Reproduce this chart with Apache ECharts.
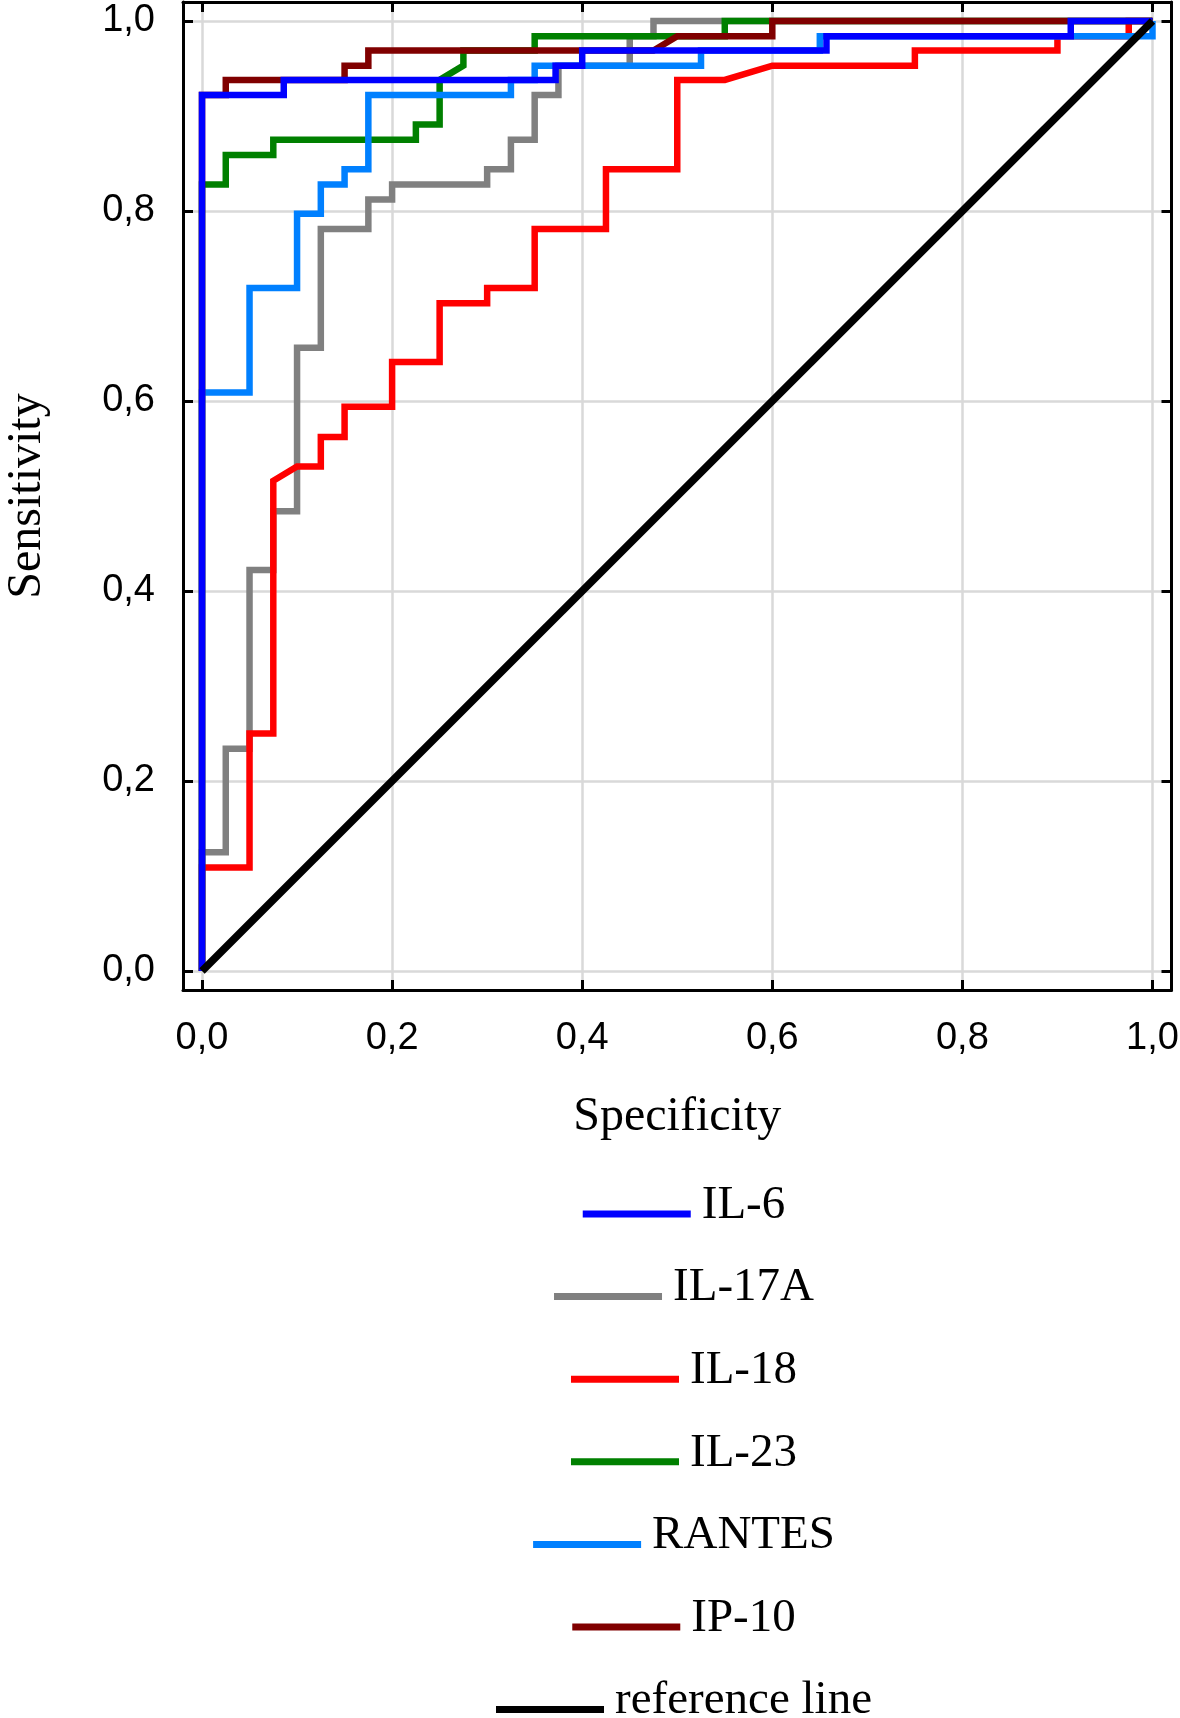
<!DOCTYPE html>
<html>
<head>
<meta charset="utf-8">
<script src="https://cdn.jsdelivr.net/npm/echarts@6/dist/echarts.min.js"></script>
<style>
html,body{margin:0;padding:0;background:#ffffff;}
#chart{width:1180px;height:1718px;}
</style>
</head>
<body>
<div id="chart"></div>
<script>
// ---- data ----
const seriesNames = ['IL-6', 'IL-17A', 'IL-18', 'IL-23', 'RANTES', 'IP-10', 'reference line'];
const seriesColors = ['#0000ff', '#808080', '#ff0000', '#008000', '#0080ff', '#800000', '#000000'];
const tickValues = [0, 0.2, 0.4, 0.6, 0.8, 1.0];

const il6Points = [[0,0],[0,0.922],[0.086,0.922],[0.086,0.938],[0.372,0.938],[0.372,0.953],[0.4,0.953],[0.4,0.969],[0.657,0.969],[0.657,0.984],[0.914,0.984],[0.914,1],[1,1]];
const il17aPoints = [[0,0],[0,0.125],[0.025,0.125],[0.025,0.234],[0.05,0.234],[0.05,0.422],[0.075,0.422],[0.075,0.484],[0.1,0.484],[0.1,0.656],[0.125,0.656],[0.125,0.781],[0.175,0.781],[0.175,0.812],[0.2,0.812],[0.2,0.828],[0.3,0.828],[0.3,0.844],[0.325,0.844],[0.325,0.875],[0.35,0.875],[0.35,0.922],[0.375,0.922],[0.375,0.953],[0.45,0.953],[0.45,0.984],[0.475,0.984],[0.475,1],[1,1]];
const il18Points = [[0,0],[0,0.109],[0.05,0.109],[0.05,0.25],[0.075,0.25],[0.075,0.516],[0.1,0.531],[0.125,0.531],[0.125,0.562],[0.15,0.562],[0.15,0.594],[0.2,0.594],[0.2,0.641],[0.25,0.641],[0.25,0.703],[0.3,0.703],[0.3,0.719],[0.35,0.719],[0.35,0.781],[0.425,0.781],[0.425,0.844],[0.5,0.844],[0.5,0.938],[0.55,0.938],[0.6,0.953],[0.75,0.953],[0.75,0.969],[0.9,0.969],[0.9,0.984],[0.975,0.984],[0.975,1],[1,1]];
const il23Points = [[0,0],[0,0.828],[0.025,0.828],[0.025,0.859],[0.075,0.859],[0.075,0.875],[0.225,0.875],[0.225,0.891],[0.25,0.891],[0.25,0.938],[0.275,0.953],[0.275,0.969],[0.35,0.969],[0.35,0.984],[0.55,0.984],[0.55,1],[1,1]];
const rantesPoints = [[0,0],[0,0.609],[0.05,0.609],[0.05,0.719],[0.1,0.719],[0.1,0.797],[0.125,0.797],[0.125,0.828],[0.15,0.828],[0.15,0.844],[0.175,0.844],[0.175,0.922],[0.325,0.922],[0.325,0.938],[0.35,0.938],[0.35,0.953],[0.525,0.953],[0.525,0.969],[0.65,0.969],[0.65,0.984],[1,0.984],[1,1]];
const ip10Points = [[0,0],[0,0.922],[0.025,0.922],[0.025,0.938],[0.15,0.938],[0.15,0.953],[0.175,0.953],[0.175,0.969],[0.475,0.969],[0.5,0.984],[0.6,0.984],[0.6,1],[1,1]];
const referencePoints = [[0,0],[1,1]];

const allPoints = [il6Points, il17aPoints, il18Points, il23Points, rantesPoints, ip10Points, referencePoints];
const drawOrder = [1, 2, 3, 4, 5, 0, 6];

// ---- chart ----
const chart = echarts.init(document.getElementById('chart'), null, {renderer: 'canvas'});

const fmt = v => Number(v).toFixed(1).replace('.', ',');
const frameLine = {show: true, onZero: false, lineStyle: {color: '#000', width: 3}};
const frameTick = {show: true, inside: true, length: 10, customValues: tickValues, lineStyle: {color: '#000', width: 3}};
const gridLine = {show: true, lineStyle: {color: '#d9d9d9', width: 2.5}};
const tickFont = {color: '#000', fontFamily: '"Liberation Sans", Arial, sans-serif', fontSize: 38};

const series = drawOrder.map(i => ({
  name: seriesNames[i],
  type: 'line',
  data: allPoints[i],
  showSymbol: false,
  symbol: 'none',
  animation: false,
  silent: true,
  itemStyle: {color: seriesColors[i]},
  lineStyle: {color: seriesColors[i], width: i === 6 ? 7.5 : 6.5, join: 'miter'},
  emphasis: {disabled: true}
}));

// legends: one per entry, each centred on x = 684.
// Icon: a 108x7 bar placed low in a 114x40 box (tiny corner speck fixes the box size).
const legendFontPx = 47;
const mctx = document.createElement('canvas').getContext('2d');
mctx.font = legendFontPx + 'px "Liberation Serif"';
const iconBoxW = 114, iconBoxH = 40, barTop = 25, barH = 7;
const legendIcon = 'path://M113.99,0h0.01v0.01h-0.01zM0,' + barTop + 'h108v' + barH + 'h-108zM113.99,39.99h0.01v0.01h-0.01z';
const legends = seriesNames.map((name, k) => {
  const tw = mctx.measureText(name).width;
  const total = iconBoxW + 5 + tw;
  const lineCenter = 1214 + k * 82.6;
  const barCenter = barTop + barH / 2;
  const textTop = iconBoxH / 2 - legendFontPx / 2;
  return {
    data: [name],
    orient: 'vertical',
    icon: legendIcon,
    itemWidth: iconBoxW,
    itemHeight: iconBoxH,
    padding: 0,
    selectedMode: false,
    left: 684 - total / 2,
    top: lineCenter - barCenter + Math.min(0, textTop),
    itemStyle: {borderWidth: 0},
    textStyle: {
      color: '#000',
      fontFamily: '"Liberation Serif", "Times New Roman", serif',
      fontSize: legendFontPx,
      lineHeight: legendFontPx
    }
  };
});

const option = {
  backgroundColor: '#ffffff',
  animation: false,
  grid: {left: 183, right: 8.5, top: 2, bottom: 728, outerBoundsMode: 'none', containLabel: false},
  xAxis: [
    {
      type: 'value', position: 'bottom', min: -0.02, max: 1.02,
      name: 'Specificity', nameLocation: 'middle', nameGap: 103,
      nameTextStyle: {color: '#000', fontFamily: '"Liberation Serif", "Times New Roman", serif', fontSize: 48},
      axisLine: frameLine, axisTick: frameTick,
      axisLabel: Object.assign({show: true, margin: 30, customValues: tickValues, formatter: fmt}, tickFont),
      splitLine: gridLine
    },
    {
      type: 'value', position: 'top', min: -0.02, max: 1.02,
      axisLine: frameLine, axisTick: frameTick,
      axisLabel: {show: false}, splitLine: {show: false}
    }
  ],
  yAxis: [
    {
      type: 'value', position: 'left', min: -0.02, max: 1.02,
      name: 'Sensitivity', nameLocation: 'middle', nameGap: 132,
      nameTextStyle: {color: '#000', fontFamily: '"Liberation Serif", "Times New Roman", serif', fontSize: 48},
      axisLine: frameLine, axisTick: frameTick,
      axisLabel: Object.assign({show: true, margin: 28, customValues: tickValues, formatter: fmt}, tickFont),
      splitLine: gridLine
    },
    {
      type: 'value', position: 'right', min: -0.02, max: 1.02,
      axisLine: frameLine, axisTick: frameTick,
      axisLabel: {show: false}, splitLine: {show: false}
    }
  ],
  legend: legends,
  series: series
};
chart.setOption(option);
</script>
</body>
</html>
